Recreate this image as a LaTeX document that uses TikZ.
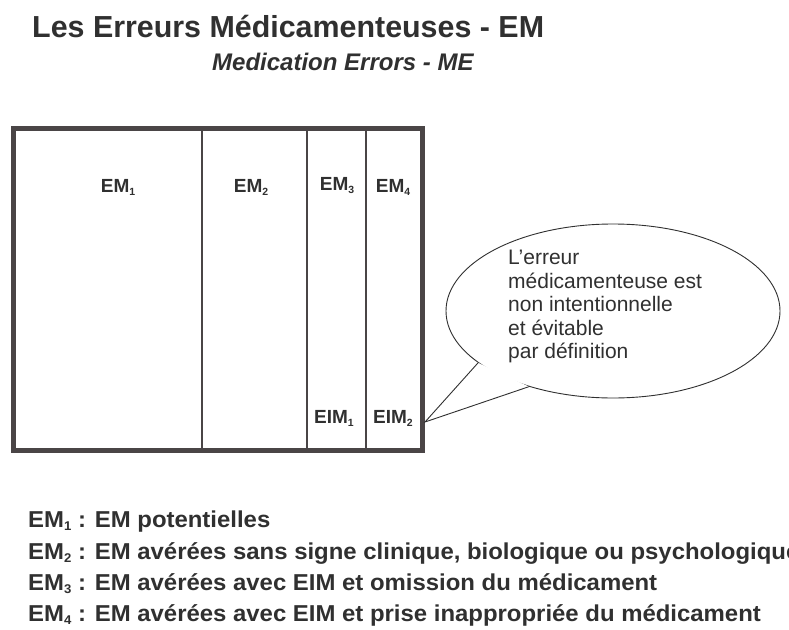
\documentclass[tikz,border=0pt]{standalone}
\usepackage{fontspec}
\setmainfont{Liberation Sans}
\usetikzlibrary{shapes.geometric}
\definecolor{ink}{HTML}{303030}
\definecolor{framec}{HTML}{4A4546}
\newcommand{\lsub}[1]{\raisebox{-0.3ex}{\scalebox{0.55}{#1}}}
\begin{document}
\begin{tikzpicture}[x=1pt,y=-1pt,
  lbl/.style={font=\fontsize{19}{19}\selectfont\bfseries, text=ink, inner sep=0pt},
  legend/.style={anchor=base west, font=\fontsize{23}{23}\selectfont\bfseries, text=ink, inner sep=0pt},
  divider/.style={draw=framec, line width=1.6pt}]
\clip (0,0) rectangle (789,629);
\fill[white] (0,0) rectangle (789,629);
% titles
\node[anchor=base west, inner sep=0pt, text=ink, font=\fontsize{30.4}{30}\selectfont\bfseries] (title) at (32,37)
  {Les Erreurs Médicamenteuses - EM};
\node[anchor=base west, inner sep=0pt, text=ink, font=\fontsize{24}{24}\selectfont\bfseries\itshape] (subtitle) at (212,70)
  {Medication Errors - ME};
% main box
\node[draw=framec, line width=5pt, minimum width=409pt, minimum height=322pt, inner sep=0pt] (box) at (217.5,289) {};
\coordinate (d1t) at (202,128); \coordinate (d1b) at (202,450);
\coordinate (d2t) at (307,128); \coordinate (d2b) at (307,450);
\coordinate (d3t) at (366,128); \coordinate (d3b) at (366,450);
\draw[divider] (d1t) -- (d1b);
\draw[divider, line width=2.2pt] (d2t) -- (d2b);
\draw[divider] (d3t) -- (d3b);
\node[lbl] (em1) at (118,187) {EM\lsub{1}};
\node[lbl] (em2) at (251,187) {EM\lsub{2}};
\node[lbl] (em3) at (337,186) {EM\lsub{3}};
\node[lbl] (em4) at (393,187) {EM\lsub{4}};
\node[lbl] (eim1) at (334,418) {EIM\lsub{1}};
\node[lbl] (eim2) at (393,418) {EIM\lsub{2}};
% bubble
\node[ellipse, draw=ink, line width=0.9pt, minimum width=334pt, minimum height=174pt, inner sep=0pt] (bubble) at (613,311) {};
\coordinate (tip) at (425,422);
\fill[white] (bubble.201) -- (tip) -- (bubble.222) -- cycle;
\draw[ink, line width=0.9pt, line join=miter] (bubble.201) -- (tip) -- (bubble.222);
\node[anchor=north west, align=left, inner sep=0pt, text=ink, font=\fontsize{21}{23.5}\selectfont] (btext) at (508,250)
  {L'erreur\\médicamenteuse est\\non intentionnelle\\et évitable\\par définition};
% legend
\node[legend] (l1) at (28,527) {\scalebox{1.04}[1]{EM\lsub{1} : EM potentielles}};
\node[legend] (l2) at (28,559) {\scalebox{1.04}[1]{EM\lsub{2} : EM avérées sans signe clinique, biologique ou psychologique}};
\node[legend] (l3) at (28,590) {\scalebox{1.04}[1]{EM\lsub{3} : EM avérées avec EIM et omission du médicament}};
\node[legend] (l4) at (28,621) {\scalebox{1.04}[1]{EM\lsub{4} : EM avérées avec EIM et prise inappropriée du médicament}};
\end{tikzpicture}
\end{document}
